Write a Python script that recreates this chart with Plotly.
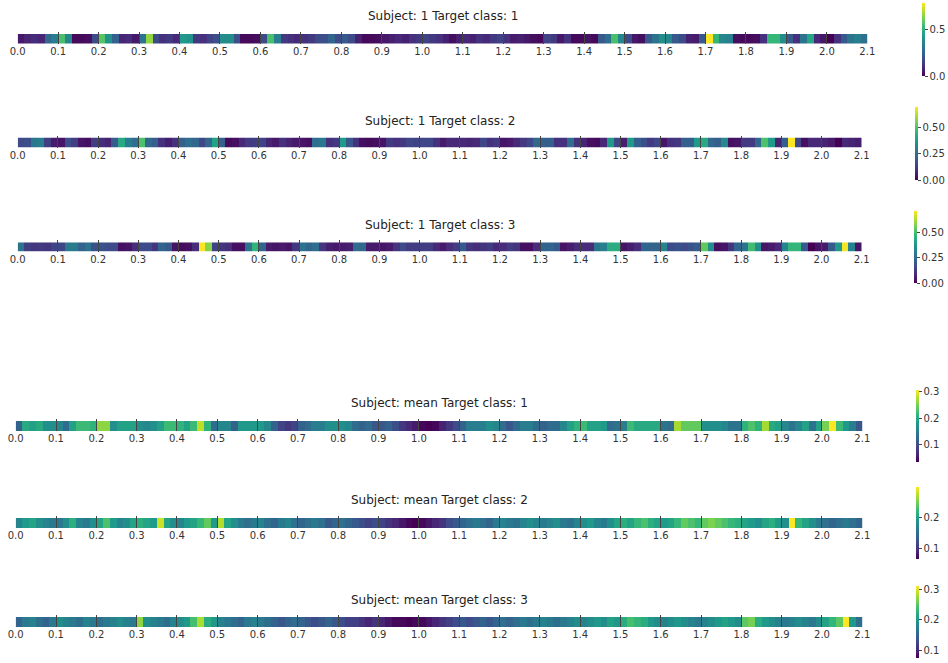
import plotly.graph_objects as go

FS = 60  # samples per second in each attribution strip
FIG_W, FIG_H = 948, 663

time_ticks = [round(0.1 * i, 1) for i in range(22)]
tick_labels = [f"{t:.1f}" for t in time_ticks]

subj1_class1 = [
    0.05, 0.08, 0.10, 0.08, 0.27, 0.33,
    0.55, 0.36, 0.02, 0.02, 0.03, 0.18,
    0.57, 0.40, 0.24, 0.08, 0.10, 0.05,
    0.30, 0.65, 0.18, 0.11, 0.13, 0.09,
    0.42, 0.40, 0.13, 0.11, 0.16, 0.19,
    0.38, 0.38, 0.19, 0.02, 0.02, 0.03,
    0.18, 0.55, 0.33, 0.13, 0.11, 0.09,
    0.11, 0.13, 0.18, 0.19, 0.25, 0.18,
    0.22, 0.18, 0.07, 0.02, 0.02, 0.03,
    0.05, 0.07, 0.09, 0.07, 0.11, 0.13,
    0.16, 0.13, 0.11, 0.07, 0.03, 0.07,
    0.09, 0.07, 0.11, 0.09, 0.13, 0.16,
    0.11, 0.06, 0.07, 0.05, 0.03, 0.02,
    0.16, 0.13, 0.05, 0.11, 0.02, 0.02,
    0.04, 0.02, 0.22, 0.28, 0.55, 0.36,
    0.18, 0.05, 0.03, 0.22, 0.30, 0.38,
    0.36, 0.22, 0.18, 0.07, 0.06, 0.22,
    0.78, 0.52, 0.36, 0.34, 0.03, 0.02,
    0.02, 0.03, 0.11, 0.52, 0.52, 0.38,
    0.22, 0.11, 0.30, 0.46, 0.09, 0.05,
    0.00, 0.11, 0.22, 0.30, 0.33, 0.29,
]

subj1_class2 = [
    0.16, 0.17, 0.28, 0.30, 0.13, 0.05,
    0.04, 0.17, 0.13, 0.04, 0.03, 0.13,
    0.09, 0.07, 0.20, 0.42, 0.30, 0.25,
    0.50, 0.23, 0.21, 0.10, 0.06, 0.10,
    0.21, 0.25, 0.23, 0.15, 0.23, 0.40,
    0.21, 0.02, 0.03, 0.08, 0.12, 0.13,
    0.14, 0.07, 0.05, 0.10, 0.07, 0.05,
    0.04, 0.03, 0.25, 0.28, 0.10, 0.12,
    0.38, 0.19, 0.10, 0.03, 0.02, 0.03,
    0.04, 0.12, 0.10, 0.12, 0.15, 0.14,
    0.15, 0.15, 0.10, 0.05, 0.08, 0.08,
    0.08, 0.07, 0.08, 0.15, 0.10, 0.12,
    0.04, 0.05, 0.08, 0.12, 0.15, 0.23,
    0.21, 0.21, 0.10, 0.10, 0.25, 0.10,
    0.07, 0.03, 0.02, 0.08, 0.38, 0.15,
    0.06, 0.38, 0.21, 0.17, 0.12, 0.15,
    0.04, 0.10, 0.11, 0.21, 0.21, 0.38,
    0.42, 0.23, 0.21, 0.33, 0.03, 0.04,
    0.12, 0.12, 0.23, 0.50, 0.38, 0.07,
    0.21, 0.70, 0.15, 0.03, 0.08, 0.08,
    0.07, 0.05, 0.00, 0.08, 0.07, 0.06,
]

subj1_class3 = [
    0.27, 0.13, 0.11, 0.12, 0.11, 0.15,
    0.15, 0.29, 0.29, 0.23, 0.27, 0.18,
    0.18, 0.16, 0.16, 0.03, 0.04, 0.09,
    0.16, 0.16, 0.11, 0.23, 0.20, 0.04,
    0.02, 0.03, 0.09, 0.71, 0.58, 0.14,
    0.11, 0.09, 0.03, 0.03, 0.27, 0.46,
    0.23, 0.05, 0.04, 0.05, 0.04, 0.11,
    0.27, 0.23, 0.25, 0.11, 0.06, 0.05,
    0.05, 0.06, 0.25, 0.24, 0.05, 0.05,
    0.04, 0.05, 0.11, 0.16, 0.13, 0.13,
    0.13, 0.13, 0.08, 0.05, 0.09, 0.13,
    0.20, 0.11, 0.09, 0.11, 0.13, 0.08,
    0.09, 0.13, 0.11, 0.03, 0.03, 0.09,
    0.23, 0.23, 0.20, 0.04, 0.06, 0.09,
    0.09, 0.09, 0.27, 0.31, 0.44, 0.44,
    0.04, 0.06, 0.09, 0.23, 0.23, 0.23,
    0.32, 0.16, 0.18, 0.16, 0.18, 0.20,
    0.53, 0.35, 0.03, 0.04, 0.11, 0.23,
    0.27, 0.49, 0.35, 0.04, 0.05, 0.08,
    0.32, 0.47, 0.47, 0.20, 0.00, 0.04,
    0.05, 0.20, 0.38, 0.70, 0.31, 0.04,
]

mean_class1 = [
    0.12, 0.20, 0.19, 0.20, 0.17, 0.17,
    0.16, 0.13, 0.19, 0.22, 0.22, 0.21,
    0.26, 0.26, 0.17, 0.19, 0.19, 0.19,
    0.17, 0.16, 0.17, 0.19, 0.22, 0.22,
    0.21, 0.19, 0.22, 0.28, 0.21, 0.13,
    0.16, 0.16, 0.12, 0.18, 0.18, 0.18,
    0.18, 0.16, 0.12, 0.09, 0.08, 0.09,
    0.12, 0.13, 0.15, 0.15, 0.17, 0.17,
    0.17, 0.16, 0.13, 0.12, 0.13, 0.11,
    0.11, 0.12, 0.10, 0.08, 0.065, 0.055,
    0.04, 0.035, 0.04, 0.06, 0.08, 0.10,
    0.12, 0.15, 0.15, 0.15, 0.17, 0.16,
    0.13, 0.11, 0.13, 0.15, 0.15, 0.13,
    0.12, 0.13, 0.13, 0.16, 0.19, 0.21,
    0.22, 0.19, 0.19, 0.18, 0.13, 0.14,
    0.15, 0.22, 0.20, 0.20, 0.20, 0.20,
    0.14, 0.13, 0.27, 0.24, 0.24, 0.24,
    0.17, 0.17, 0.17, 0.16, 0.14, 0.14,
    0.21, 0.23, 0.21, 0.27, 0.20, 0.19,
    0.16, 0.14, 0.16, 0.19, 0.14, 0.19,
    0.25, 0.307, 0.22, 0.18, 0.15, 0.11,
]

mean_class2 = [
    0.17, 0.19, 0.20, 0.18, 0.17, 0.16,
    0.16, 0.18, 0.21, 0.17, 0.16, 0.18,
    0.20, 0.23, 0.19, 0.17, 0.18, 0.20,
    0.21, 0.20, 0.19, 0.28, 0.20, 0.18,
    0.17, 0.19, 0.20, 0.22, 0.24, 0.19,
    0.27, 0.20, 0.18, 0.16, 0.15, 0.16,
    0.17, 0.15, 0.14, 0.16, 0.17, 0.15,
    0.14, 0.15, 0.16, 0.15, 0.13, 0.14,
    0.15, 0.14, 0.13, 0.12, 0.11, 0.12,
    0.11, 0.10, 0.09, 0.08, 0.07, 0.065,
    0.07, 0.08, 0.09, 0.10, 0.12, 0.13,
    0.14, 0.15, 0.16, 0.15, 0.14, 0.16,
    0.17, 0.16, 0.15, 0.17, 0.18, 0.17,
    0.16, 0.17, 0.18, 0.16, 0.15, 0.17,
    0.18, 0.19, 0.17, 0.16, 0.18, 0.20,
    0.21, 0.20, 0.22, 0.23, 0.21, 0.20,
    0.19, 0.20, 0.22, 0.24, 0.23, 0.22,
    0.24, 0.25, 0.24, 0.23, 0.22, 0.21,
    0.20, 0.19, 0.18, 0.20, 0.21, 0.19,
    0.18, 0.297, 0.22, 0.20, 0.18, 0.16,
    0.15, 0.14, 0.15, 0.16, 0.15, 0.14,
]

mean_class3 = [
    0.15, 0.17, 0.18, 0.16, 0.15, 0.17,
    0.19, 0.18, 0.17, 0.16, 0.18, 0.17,
    0.16, 0.17, 0.18, 0.19, 0.18, 0.17,
    0.27, 0.19, 0.18, 0.17, 0.16, 0.18,
    0.19, 0.20, 0.24, 0.28, 0.22, 0.20,
    0.18, 0.17, 0.16, 0.15, 0.17, 0.18,
    0.17, 0.16, 0.15, 0.14, 0.15, 0.16,
    0.15, 0.14, 0.13, 0.14, 0.15, 0.14,
    0.13, 0.12, 0.12, 0.11, 0.10, 0.11,
    0.10, 0.09, 0.08, 0.08, 0.075, 0.08,
    0.08, 0.09, 0.10, 0.11, 0.12, 0.13,
    0.14, 0.13, 0.14, 0.15, 0.14, 0.15,
    0.16, 0.15, 0.16, 0.17, 0.16, 0.17,
    0.18, 0.17, 0.16, 0.17, 0.18, 0.19,
    0.18, 0.19, 0.20, 0.19, 0.21, 0.20,
    0.22, 0.24, 0.23, 0.22, 0.20, 0.19,
    0.18, 0.19, 0.20, 0.19, 0.18, 0.17,
    0.18, 0.19, 0.20, 0.21, 0.20, 0.19,
    0.25, 0.26, 0.22, 0.20, 0.19, 0.18,
    0.17, 0.18, 0.19, 0.18, 0.17, 0.19,
    0.21, 0.23, 0.25, 0.31, 0.20, 0.16,
]

# pixel geometry of each panel: strip box, title line and colorbar box
panels = [
    dict(title="Subject: 1 Target class: 1", values=subj1_class1,
         x0=17.7, x1=867.3, top=34.0, bottom=43.5, title_y=15.7,
         cb_x=921.5, cb_top=2.7, cb_bot=76.0, dtick=0.5, fmt=".1f"),
    dict(title="Subject: 1 Target class: 2", values=subj1_class2,
         x0=17.7, x1=861.7, top=137.5, bottom=147.5, title_y=120.7,
         cb_x=915.0, cb_top=106.7, cb_bot=180.0, dtick=0.25, fmt=".2f"),
    dict(title="Subject: 1 Target class: 3", values=subj1_class3,
         x0=17.7, x1=861.7, top=242.3, bottom=251.7, title_y=225.0,
         cb_x=914.3, cb_top=211.0, cb_bot=283.3, dtick=0.25, fmt=".2f"),
    dict(title="Subject: mean Target class: 1", values=mean_class1,
         x0=15.7, x1=862.3, top=421.0, bottom=431.0, title_y=403.3,
         cb_x=915.7, cb_top=390.0, cb_bot=462.0, dtick=0.1, fmt=".1f"),
    dict(title="Subject: mean Target class: 2", values=mean_class2,
         x0=15.7, x1=862.3, top=518.0, bottom=528.0, title_y=500.0,
         cb_x=915.7, cb_top=487.0, cb_bot=559.0, dtick=0.1, fmt=".1f"),
    dict(title="Subject: mean Target class: 3", values=mean_class3,
         x0=15.7, x1=862.3, top=617.0, bottom=627.0, title_y=600.0,
         cb_x=915.7, cb_top=586.0, cb_bot=658.0, dtick=0.1, fmt=".1f"),
]

FONT = "DejaVu Sans"
TEXT = "#333333"

fig = go.Figure()
layout = dict(
    width=FIG_W, height=FIG_H,
    margin=dict(l=0, r=0, t=0, b=0, autoexpand=False),
    paper_bgcolor="white", plot_bgcolor="white",
    font=dict(family=FONT, size=10, color=TEXT),
    showlegend=False,
    annotations=[],
)

for k, p in enumerate(panels, start=1):
    vals = p["values"]
    n = len(vals)
    centers = [(i + 0.5) / FS for i in range(n)]
    xa = "x" if k == 1 else f"x{k}"
    ya = "y" if k == 1 else f"y{k}"
    ca = "coloraxis" if k == 1 else f"coloraxis{k}"
    fig.add_trace(go.Heatmap(
        z=[vals], x=centers, y=[0],
        xaxis=xa, yaxis=ya, coloraxis=ca,
        hoverinfo="skip",
    ))
    xkey = "xaxis" if k == 1 else f"xaxis{k}"
    ykey = "yaxis" if k == 1 else f"yaxis{k}"
    layout[xkey] = dict(
        domain=[p["x0"] / FIG_W, p["x1"] / FIG_W],
        anchor=ya,
        range=[0, n / FS],
        tickmode="array", tickvals=time_ticks, ticktext=tick_labels,
        ticks="inside", ticklen=12, tickwidth=1, tickcolor="#444444",
        tickfont=dict(family=FONT, size=10, color=TEXT),
        showgrid=False, zeroline=False, showline=False,
        fixedrange=True,
    )
    layout[ykey] = dict(
        domain=[1 - p["bottom"] / FIG_H, 1 - p["top"] / FIG_H],
        anchor=xa,
        range=[-0.5, 0.5],
        visible=False, fixedrange=True,
    )
    layout[ca] = dict(
        colorscale="Viridis",
        cmin=min(vals), cmax=max(vals),
        colorbar=dict(
            x=p["cb_x"] / FIG_W, xanchor="left",
            y=1 - p["cb_bot"] / FIG_H, yanchor="bottom",
            len=p["cb_bot"] - p["cb_top"], lenmode="pixels",
            thickness=3, thicknessmode="pixels",
            outlinewidth=0, xpad=0, ypad=0,
            ticks="outside", ticklen=3, tickwidth=1, tickcolor="#444444",
            tick0=0, dtick=p["dtick"], tickformat=p["fmt"],
            tickfont=dict(family=FONT, size=10, color=TEXT),
        ),
    )
    layout["annotations"].append(dict(
        text=p["title"], showarrow=False,
        xref="paper", yref="paper",
        x=(p["x0"] + p["x1"]) / 2 / FIG_W, y=1 - p["title_y"] / FIG_H,
        xanchor="center", yanchor="middle",
        font=dict(family=FONT, size=12, color="#222222"),
    ))

fig.update_layout(**layout)
fig.write_html("out.html")
